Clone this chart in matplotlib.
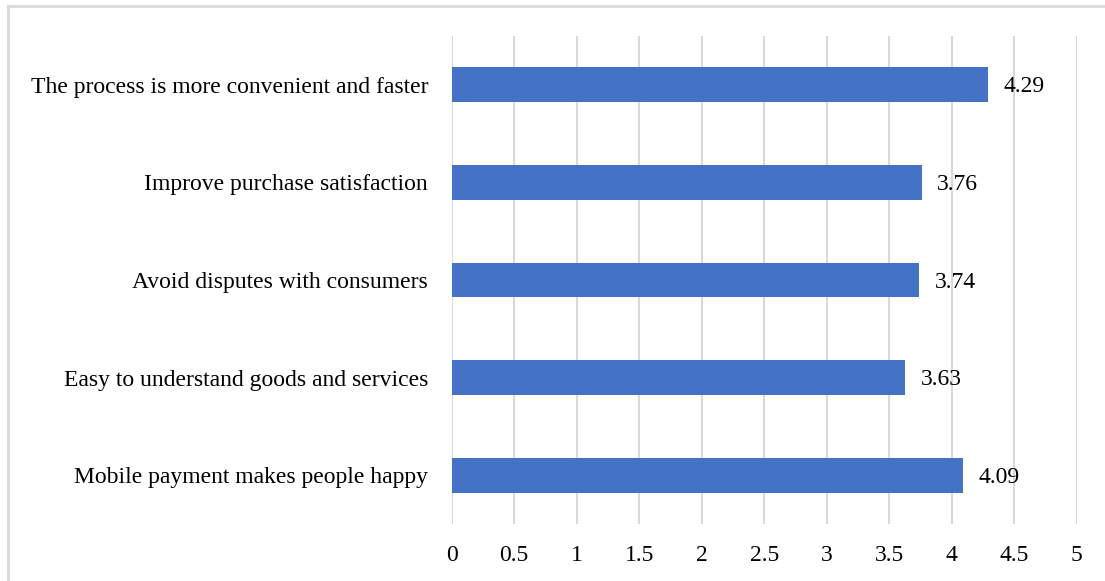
import matplotlib
matplotlib.use("Agg")
import matplotlib.pyplot as plt
from matplotlib.lines import Line2D

categories = [
    "The process is more convenient and faster",
    "Improve purchase satisfaction",
    "Avoid disputes with consumers",
    "Easy to understand goods and services",
    "Mobile payment makes people happy",
]
scores = [4.29, 3.76, 3.74, 3.63, 4.09]
xticks = [0, 0.5, 1, 1.5, 2, 2.5, 3, 3.5, 4, 4.5, 5]
xtick_labels = ["0", "0.5", "1", "1.5", "2", "2.5", "3", "3.5", "4", "4.5", "5"]

plt.rcParams["font.family"] = ["Liberation Serif", "DejaVu Serif"]

W, H = 1105, 581
FS = 17
fig = plt.figure(figsize=(W / 100, H / 100), dpi=100)
ax = fig.add_axes([451.7 / W, 1 - 524 / H, (1076.7 - 451.7) / W, (524 - 36) / H])

ypos = list(range(len(categories)))[::-1]
ax.barh(ypos, scores, height=0.355, color="#4472C4", zorder=3)
for y, v in zip(ypos, scores):
    ax.annotate(f"{v:.2f}", xy=(v, y), xytext=(11, -1.5), textcoords="offset points",
                ha="left", va="center", fontsize=FS, color="black")

ax.set_xlim(0, 5)
ax.set_ylim(-0.5, len(categories) - 0.5)
ax.set_xticks(xticks)
ax.set_xticklabels(xtick_labels, fontsize=FS)
ax.set_yticks(ypos)
ax.set_yticklabels(categories, fontsize=FS)
ax.tick_params(axis="both", length=0, colors="black")
ax.tick_params(axis="x", pad=15)
ax.tick_params(axis="y", pad=17)
ax.grid(axis="x", color="#D9D9D9", linewidth=1.5, zorder=0)
for s in ax.spines.values():
    s.set_visible(False)

# light frame around the chart area
frame_color = "#D9D9D9"
fig.add_artist(Line2D([8 / W, 1], [1 - 6 / H, 1 - 6 / H], color=frame_color, lw=2, transform=fig.transFigure))
fig.add_artist(Line2D([8 / W, 8 / W], [0, 1 - 6 / H], color=frame_color, lw=2, transform=fig.transFigure))

fig.savefig("out.png", dpi=100, facecolor="white")
